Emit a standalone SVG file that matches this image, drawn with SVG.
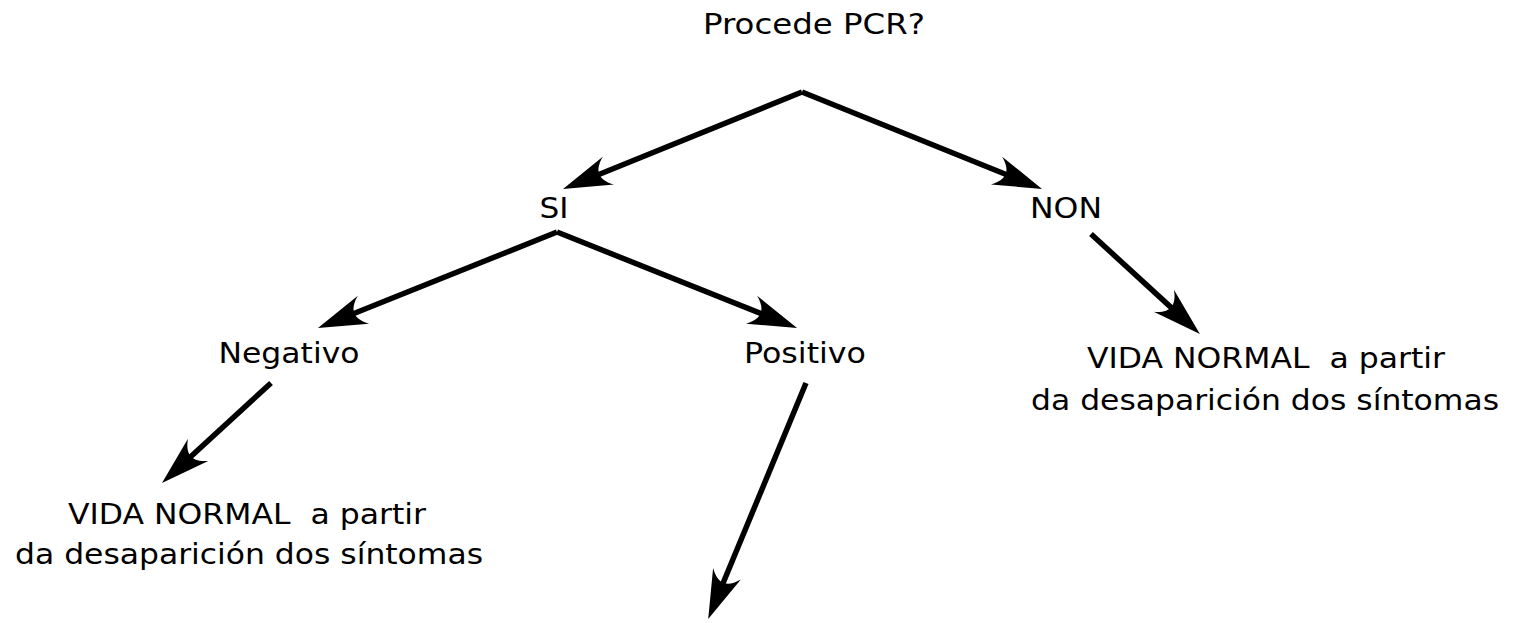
<svg xmlns="http://www.w3.org/2000/svg" width="1526" height="623" viewBox="0 0 1526 623">
<style>
text{font-family:"DejaVu Sans",sans-serif;font-size:29px;fill:#000;text-anchor:middle;white-space:pre}
.c{fill:none;stroke:#000;stroke-width:5.5;stroke-linejoin:miter;marker-end:url(#ah)}
</style>
<defs>
<marker id="ah" markerUnits="userSpaceOnUse" orient="auto" markerWidth="60" markerHeight="40" refX="0" refY="0" viewBox="-25 -20 60 40" overflow="visible">
<path d="M30,0 L-19,-15 C-6,-5 -6,5 -19,15 Z" fill="#000"/>
</marker>
</defs>
<rect width="1526" height="623" fill="#fff"/>
<g id="connectors">
<path class="c" d="M802,92 L590.8,177.7"/>
<path class="c" d="M802,92 L1014.2,177.7"/>
<path class="c" d="M557,232 L345.8,316.8"/>
<path class="c" d="M557,232 L769.2,316.8"/>
<path class="c" d="M1091,234 L1177.8,313.6"/>
<path class="c" d="M271,383 L184.1,462.7"/>
<path class="c" d="M806,383 L719.7,591.3"/>
</g>
<g id="n-procede"><text x="814" y="34" textLength="222" lengthAdjust="spacingAndGlyphs">Procede PCR?</text></g>
<g id="n-si"><text x="554" y="218" textLength="29" lengthAdjust="spacingAndGlyphs">SI</text></g>
<g id="n-non"><text x="1066" y="218" textLength="72" lengthAdjust="spacingAndGlyphs">NON</text></g>
<g id="n-negativo"><text x="289" y="363" textLength="141" lengthAdjust="spacingAndGlyphs">Negativo</text></g>
<g id="n-positivo"><text x="805" y="363" textLength="122" lengthAdjust="spacingAndGlyphs">Positivo</text></g>
<g id="n-vida-left"><text x="247" y="524" textLength="358" lengthAdjust="spacingAndGlyphs">VIDA NORMAL  a partir</text><text x="249" y="564" textLength="468" lengthAdjust="spacingAndGlyphs">da desaparición dos síntomas</text></g>
<g id="n-vida-right"><text x="1266" y="368" textLength="358" lengthAdjust="spacingAndGlyphs">VIDA NORMAL  a partir</text><text x="1265" y="410" textLength="468" lengthAdjust="spacingAndGlyphs">da desaparición dos síntomas</text></g>
</svg>
